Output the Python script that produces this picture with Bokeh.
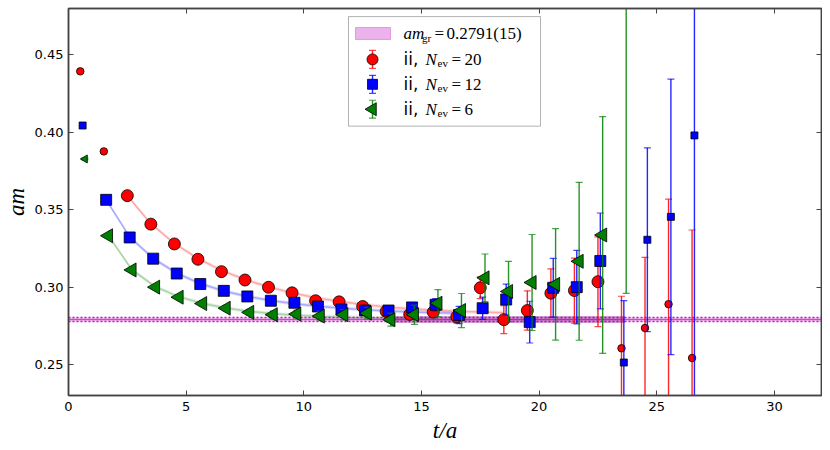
import numpy as np
from bokeh.plotting import figure
from bokeh.models import (Range1d, LinearAxis, FixedTicker, PrintfTickFormatter,
                          Label, BoxAnnotation)
from bokeh.embed import file_html
from bokeh.resources import INLINE

# ---------------- data ----------------
red_t = [0.5, 1.5, 2.5, 3.5, 4.5, 5.5, 6.5, 7.5, 8.5, 9.5, 10.5, 11.5, 12.5, 13.5,
         14.5, 15.5, 16.5, 17.5, 18.5, 19.5, 20.5, 21.5, 22.5, 23.5, 24.5, 25.5, 26.5]
red_am = [0.4394, 0.3877, 0.3591, 0.3407, 0.3279, 0.3180, 0.3100, 0.3046, 0.2999, 0.2963,
          0.2912, 0.2905, 0.2875, 0.2843, 0.2824, 0.2839, 0.2808, 0.2996, 0.2790, 0.2849,
          0.2961, 0.2978, 0.3035, 0.2605, 0.2736, 0.2890, 0.2542]
red_err = [0.0005, 0.0008, 0.0008, 0.0009, 0.0010, 0.0010, 0.0012, 0.0014, 0.0016, 0.0018,
           0.0020, 0.0022, 0.0025, 0.0028, 0.0030, 0.0035, 0.0040, 0.0070, 0.0090, 0.0127,
           0.0157, 0.0210, 0.0290, 0.0336, 0.0456, 0.0678, 0.0827]

blue_t = [0.6, 1.6, 2.6, 3.6, 4.6, 5.6, 6.6, 7.6, 8.6, 9.6, 10.6, 11.6, 12.6, 13.6,
          14.6, 15.6, 16.6, 17.6, 18.6, 19.6, 20.6, 21.6, 22.6, 23.6, 24.6, 25.6, 26.6]
blue_am = [0.4044, 0.3564, 0.3321, 0.3184, 0.3088, 0.3020, 0.2976, 0.2940, 0.2912, 0.2899,
           0.2875, 0.2856, 0.2849, 0.2849, 0.2869, 0.2886, 0.2820, 0.2864, 0.2920, 0.2774,
           0.2996, 0.3000, 0.3169, 0.2513, 0.3306, 0.3454, 0.3980]
blue_err = [0.0005, 0.0006, 0.0007, 0.0008, 0.0009, 0.0010, 0.0011, 0.0012, 0.0014, 0.0016,
            0.0018, 0.0020, 0.0023, 0.0026, 0.0030, 0.0040, 0.0056, 0.0072, 0.0100, 0.0135,
            0.0190, 0.0237, 0.0310, 0.0400, 0.0594, 0.0890, 0.2000]

green_t = [0.7, 1.7, 2.7, 3.7, 4.7, 5.7, 6.7, 7.7, 8.7, 9.7, 10.7, 11.7, 12.7, 13.7,
           14.7, 15.7, 16.7, 17.7, 18.7, 19.7, 20.7, 21.7, 22.7, 23.7]
green_am = [0.3828, 0.3332, 0.3111, 0.3000, 0.2935, 0.2894, 0.2864, 0.2837, 0.2822, 0.2826,
            0.2813, 0.2822, 0.2832, 0.2790, 0.2822, 0.2896, 0.2849, 0.3060, 0.2972, 0.3030,
            0.3018, 0.3167, 0.3337, 0.5200]
green_err = [0.0006, 0.0008, 0.0010, 0.0012, 0.0014, 0.0016, 0.0018, 0.0020, 0.0023, 0.0026,
             0.0030, 0.0033, 0.0037, 0.0042, 0.0062, 0.0088, 0.0110, 0.0154, 0.0195, 0.0310,
             0.0360, 0.0510, 0.0765, 0.2240]

# windows in which points are drawn with the large marker
red_window = (2.5, 22.5)
blue_window = (1.6, 22.6)
green_window = (1.7, 22.7)

# fitted curves
red_fit_t = [2.5, 3.5, 4.5, 5.5, 6.5, 7.5, 8.5, 9.5, 10.5, 11.5, 12.5, 13.5, 14.5, 15.5,
             16.5, 17.5, 18.5]
red_fit = [0.3591, 0.3410, 0.3282, 0.3185, 0.3108, 0.3049, 0.3002, 0.2963, 0.2932, 0.2908,
           0.2888, 0.2872, 0.2860, 0.2851, 0.2844, 0.2839, 0.2835]
blue_fit_t = [1.6, 2.6, 3.6, 4.6, 5.6, 6.6, 7.6, 8.6, 9.6, 10.6, 11.6, 12.6, 13.6, 14.6,
              15.6, 16.6]
blue_fit = [0.3564, 0.3325, 0.3185, 0.3090, 0.3023, 0.2975, 0.2940, 0.2913, 0.2893, 0.2877,
            0.2864, 0.2854, 0.2846, 0.2840, 0.2835, 0.2831]
green_fit_t = [1.7, 2.7, 3.7, 4.7, 5.7, 6.7, 7.7, 8.7, 9.7, 10.7, 11.7, 12.7, 13.7, 14.7, 15.7]
green_fit = [0.3332, 0.3111, 0.3002, 0.2937, 0.2895, 0.2865, 0.2843, 0.2828, 0.2818, 0.2811,
             0.2806, 0.2802, 0.2800, 0.2798, 0.2797]
fit_band_halfwidth = 0.0012

# ground-state result
am_gr = 0.2791
am_gr_err = 0.0015
plateau_range = [13.5, 23.65]
plateau_halfwidth = 0.0022

x_ticks = [0, 5, 10, 15, 20, 25, 30]
y_ticks = [0.25, 0.30, 0.35, 0.40, 0.45]

legend_nev = ["20", "12", "6"]

RED, BLUE, GREEN, MAG = "#ff0000", "#0000ff", "#008000", "#bf00bf"

# ---------------- figure ----------------
p = figure(width=822, height=445, x_range=Range1d(0, 32), y_range=Range1d(0.23, 0.48),
           output_backend="svg", toolbar_location=None,
           min_border_left=60, min_border_right=1, min_border_top=8, min_border_bottom=5)
p.grid.visible = False
p.outline_line_color = "#444444"
p.outline_line_width = 1.5
p.background_fill_color = "white"

for ax in (p.xaxis[0], p.yaxis[0]):
    ax.major_tick_in = 5
    ax.major_tick_out = 0
    ax.minor_tick_line_color = None
    ax.axis_line_color = "#444444"
    ax.axis_line_width = 1.5
    ax.major_tick_line_color = "#444444"
    ax.major_label_text_font = "DejaVu Sans"
    ax.major_label_text_font_size = "13px"
    ax.major_label_text_color = "black"
    ax.axis_label_text_font = "Liberation Serif"
    ax.axis_label_text_font_style = "italic"
    ax.axis_label_text_font_size = "23px"
    ax.axis_label_text_color = "black"
p.xaxis.ticker = FixedTicker(ticks=x_ticks)
p.yaxis.ticker = FixedTicker(ticks=y_ticks)
p.yaxis.formatter = PrintfTickFormatter(format="%.2f")
p.xaxis.axis_label = "t/a"
p.yaxis.axis_label = "am"
p.xaxis.major_label_standoff = 6
p.xaxis.axis_label_standoff = 4
p.yaxis.major_label_standoff = 5
p.yaxis.axis_label_standoff = 3

for loc, tk in (("above", x_ticks), ("right", y_ticks)):
    ax = LinearAxis(ticker=FixedTicker(ticks=tk), major_label_text_font_size="1px",
                    major_label_text_color=None, major_label_standoff=0,
                    major_tick_in=5, major_tick_out=0,
                    minor_tick_line_color=None, axis_line_color="#444444",
                    axis_line_width=1.5, major_tick_line_color="#444444")
    p.add_layout(ax, loc)

# fit curves with bands
for ft, fv, col in ((red_fit_t, red_fit, RED), (blue_fit_t, blue_fit, BLUE),
                    (green_fit_t, green_fit, GREEN)):
    fv = np.array(fv)
    p.varea(x=ft, y1=fv - fit_band_halfwidth, y2=fv + fit_band_halfwidth,
            fill_color=col, fill_alpha=0.12)
    p.line(ft, fv, line_color=col, line_alpha=0.25, line_width=1.5)

# ground state band
p.hstrip(y0=[am_gr - am_gr_err], y1=[am_gr + am_gr_err], fill_color=MAG, fill_alpha=0.3,
         line_color=None)
p.hspan(y=[am_gr - am_gr_err, am_gr + am_gr_err], line_color=MAG, line_width=1.3,
        line_dash="2 2", line_alpha=0.9)
p.hspan(y=[am_gr], line_color=MAG, line_width=1, line_alpha=0.6)
p.varea(x=plateau_range, y1=[am_gr - plateau_halfwidth] * 2, y2=[am_gr + plateau_halfwidth] * 2,
        fill_color="#800080", fill_alpha=0.35)


def series(t, am, err, window, col, marker, big, small, angle=0.0):
    t = np.array(t); am = np.array(am); err = np.array(err)
    lo, hi = am - err, am + err
    p.segment(x0=t, y0=lo, x1=t, y1=hi, line_color=col, line_width=1.4, line_alpha=0.85)
    p.scatter(x=np.concatenate([t, t]), y=np.concatenate([lo, hi]), marker="dash",
              size=7, line_color=col, line_width=1.2, line_alpha=0.7)
    inside = (t >= window[0] - 1e-9) & (t <= window[1] + 1e-9)
    p.scatter(x=t[inside], y=am[inside], marker=marker, size=big, angle=angle,
              fill_color=col, line_color="black", line_width=0.8)
    p.scatter(x=t[~inside], y=am[~inside], marker=marker, size=small, angle=angle,
              fill_color=col, line_color="black", line_width=0.8)


series(red_t, red_am, red_err, red_window, RED, "circle", 12, 7.5)
series(blue_t, blue_am, blue_err, blue_window, BLUE, "square", 11, 7)
series(green_t, green_am, green_err, green_window, GREEN, "triangle", 14, 8, angle=np.pi / 2)


# ---------------- legend (drawn by hand, positions in screen pixels) ----------------
def X(px):
    return (px - 68.0) / 23.53


def Y(py):
    return 0.25 + (364.3 - py) / 1554.0


p.add_layout(BoxAnnotation(left=X(348), right=X(540), top=Y(15), bottom=Y(125),
                           fill_color="white", fill_alpha=1, line_color="black",
                           line_width=1, level="underlay"))

rows = [32, 58, 83, 108]
icon_x = X(372)
p.quad(left=[X(355)], right=[X(390)], top=[Y(rows[0] - 6)], bottom=[Y(rows[0] + 6)],
       fill_color=MAG, fill_alpha=0.3, line_color=MAG, line_alpha=0.3)
for r, col, marker, sz, ang in ((rows[1], RED, "circle", 11, 0.0),
                                (rows[2], BLUE, "square", 10, 0.0),
                                (rows[3], GREEN, "triangle", 13, np.pi / 2)):
    p.segment(x0=[icon_x], y0=[Y(r - 9)], x1=[icon_x], y1=[Y(r + 9)], line_color=col,
              line_width=1.4, line_alpha=0.85)
    p.scatter(x=[icon_x, icon_x], y=[Y(r - 9), Y(r + 9)], marker="dash", size=7,
              line_color=col, line_width=1.2, line_alpha=0.7)
    p.scatter(x=[icon_x], y=[Y(r)], marker=marker, size=sz, angle=ang, fill_color=col,
              line_color="black", line_width=0.8)


def lab(px, py, text, size=17, font="Liberation Serif", style="normal"):
    p.add_layout(Label(x=X(px), y=Y(py), text=text, text_font=font, text_font_size=f"{size}px",
                       text_font_style=style, text_baseline="middle", text_align="left",
                       text_color="black"))


lab(403, rows[0], "am", style="italic")
lab(421.5, rows[0] + 4, "gr", size=11)
lab(434, rows[0], "=")
lab(446, rows[0], "0.2791(15)")
for r, n in zip(rows[1:], legend_nev):
    lab(403, r, "ii,", size=17, font="DejaVu Sans")
    lab(425, r, "N", style="italic")
    lab(437, r + 4, "ev", size=11)
    lab(451, r, "=")
    lab(464, r, n)

open("out.html", "w").write(file_html(p, INLINE))
